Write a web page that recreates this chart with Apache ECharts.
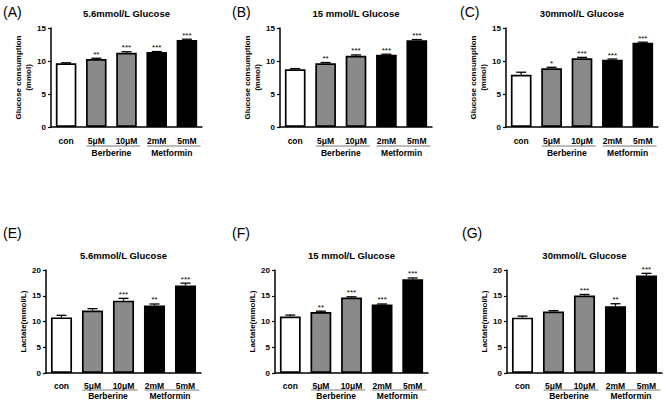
<!DOCTYPE html>
<html><head><meta charset="utf-8">
<script src="https://cdn.jsdelivr.net/npm/echarts@6/dist/echarts.min.js"></script>
<style>html,body{margin:0;padding:0;background:#fff}#c{width:667px;height:406px}</style>
</head><body><div id="c"></div>
<script>
// ---- data ----
const categories = ['con', '5μM', '10μM', '2mM', '5mM'];
const groupNames = ['Berberine', 'Metformin'];
const groupFrom = [1, 3];
const groupTo = [2, 4];

const panelLabels = ['(A)', '(B)', '(C)', '(E)', '(F)', '(G)'];
const panelTitles = ['5.6mmol/L Glucose', '15 mmol/L Glucose', '30mmol/L Glucose',
                     '5.6mmol/L Glucose', '15 mmol/L Glucose', '30mmol/L Glucose'];
const glucoseAxisName = 'Glucose consumption\n(mmol)';
const lactateAxisName = 'Lactate(mmol/L)';
const glucoseTicks = [0, 5, 10, 15];
const lactateTicks = [0, 5, 10, 15, 20];

const meanA = [9.65, 10.3, 11.25, 11.35, 13.2];
const errA  = [0.08, 0.12, 0.15, 0.08, 0.1];
const starsA = ['', '**', '***', '***', '***'];

const meanB = [8.75, 9.65, 10.8, 10.95, 13.15];
const errB  = [0.1, 0.12, 0.12, 0.08, 0.1];
const starsB = ['', '**', '***', '***', '***'];

const meanC = [7.9, 8.9, 10.4, 10.2, 12.75];
const errC  = [0.4, 0.15, 0.15, 0.1, 0.1];
const starsC = ['', '*', '***', '***', '***'];

const meanE = [10.8, 12.15, 14.05, 13.1, 17.0];
const errE  = [0.4, 0.35, 0.45, 0.3, 0.45];
const starsE = ['', '', '***', '**', '***'];

const meanF = [10.95, 11.85, 14.65, 13.3, 18.2];
const errF  = [0.3, 0.15, 0.15, 0.1, 0.25];
const starsF = ['', '**', '***', '***', '***'];

const meanG = [10.75, 11.95, 15.05, 12.95, 18.95];
const errG  = [0.3, 0.15, 0.2, 0.5, 0.4];
const starsG = ['', '', '***', '**', '***'];

// ---- layout / style ----
const FONT = '"Liberation Sans", Arial, sans-serif';
const barColors = ['#ffffff', '#8a8a8a', '#8a8a8a', '#000000', '#000000'];

const panels = [
  {mean: meanA, err: errA, stars: starsA, ticks: glucoseTicks, yName: glucoseAxisName,
   grid: {left: 51, top: 28, width: 151, height: 99}, nameGap: 14, labelMargin: 9, ulGap: 19, glGap: 26,
   labelXY: [3, 12], titleY: 13},
  {mean: meanB, err: errB, stars: starsB, ticks: glucoseTicks, yName: glucoseAxisName,
   grid: {left: 280, top: 28, width: 152, height: 99}, nameGap: 14, labelMargin: 9, ulGap: 19, glGap: 26,
   labelXY: [232, 12], titleY: 13},
  {mean: meanC, err: errC, stars: starsC, ticks: glucoseTicks, yName: glucoseAxisName,
   grid: {left: 506, top: 28, width: 152, height: 99}, nameGap: 14, labelMargin: 9, ulGap: 19, glGap: 26,
   labelXY: [460, 12], titleY: 13},
  {mean: meanE, err: errE, stars: starsE, ticks: lactateTicks, yName: lactateAxisName,
   grid: {left: 46, top: 270, width: 155, height: 103}, nameGap: 16, labelMargin: 8, ulGap: 17, glGap: 23,
   labelXY: [3, 233], titleY: 255},
  {mean: meanF, err: errF, stars: starsF, ticks: lactateTicks, yName: lactateAxisName,
   grid: {left: 275, top: 270, width: 153, height: 103}, nameGap: 16, labelMargin: 8, ulGap: 17, glGap: 23,
   labelXY: [232, 233], titleY: 255},
  {mean: meanG, err: errG, stars: starsG, ticks: lactateTicks, yName: lactateAxisName,
   grid: {left: 507, top: 270, width: 155, height: 103}, nameGap: 16, labelMargin: 8, ulGap: 17, glGap: 23,
   labelXY: [462, 233], titleY: 255}
];

const chart = echarts.init(document.getElementById('c'), null, {renderer: 'svg'});

const grids = [], xAxes = [], yAxes = [], series = [], graphics = [];

panels.forEach((p, i) => {
  grids.push(Object.assign({containLabel: false}, p.grid));
  xAxes.push({
    type: 'category', gridIndex: i, data: categories,
    axisLine: {lineStyle: {color: '#000', width: 1.5}},
    axisTick: {alignWithLabel: true, length: 3, lineStyle: {color: '#000', width: 1.2}},
    axisLabel: {color: '#000', fontFamily: FONT, fontWeight: 'bold', fontSize: 8.5, margin: p.labelMargin, interval: 0},
    splitLine: {show: false}
  });
  const yMax = p.ticks[p.ticks.length - 1];
  yAxes.push({
    type: 'value', gridIndex: i, min: p.ticks[0], max: yMax, interval: p.ticks[1] - p.ticks[0],
    name: p.yName, nameLocation: 'middle', nameGap: p.nameGap, nameRotate: 90,
    nameTextStyle: {color: '#000', fontFamily: FONT, fontWeight: 'bold', fontSize: 8, lineHeight: 10},
    axisLine: {show: true, lineStyle: {color: '#000', width: 1.5}},
    axisTick: {show: true, length: 3, lineStyle: {color: '#000', width: 1.2}},
    axisLabel: {color: '#000', fontFamily: FONT, fontWeight: 'bold', fontSize: 8, margin: 5},
    splitLine: {show: false}
  });
  series.push({
    type: 'bar', xAxisIndex: i, yAxisIndex: i, barWidth: '68%',
    data: p.mean.map((v, j) => ({value: v, itemStyle: {color: barColors[j]}})),
    itemStyle: {borderColor: '#000', borderWidth: 1.7},
    silent: true, animation: false
  });
  series.push({
    type: 'custom', xAxisIndex: i, yAxisIndex: i, clip: false, animation: false, silent: true, z: 5,
    data: p.mean.map((v, j) => [j, v, p.err[j]]),
    encode: {x: 0, y: 1},
    renderItem: (params, api) => {
      const j = api.value(0), m = api.value(1), e = api.value(2);
      const p0 = api.coord([j, m]);
      const p1 = api.coord([j, m + e]);
      const capHalf = 5;
      return {type: 'group', children: [
        {type: 'line', shape: {x1: p0[0], y1: p0[1], x2: p1[0], y2: p1[1]}, style: {stroke: '#000', lineWidth: 1.3}},
        {type: 'line', shape: {x1: p1[0] - capHalf, y1: p1[1], x2: p1[0] + capHalf, y2: p1[1]}, style: {stroke: '#000', lineWidth: 1.3}},
        {type: 'text', x: p1[0], y: p1[1] - 4, style: {text: p.stars[params.dataIndex], align: 'center', verticalAlign: 'middle',
          fontFamily: FONT, fontSize: 8, fontWeight: 'normal', fill: '#000'}}
      ]};
    }
  });
  series.push({
    type: 'custom', xAxisIndex: i, yAxisIndex: i, clip: false, animation: false, silent: true, z: 5,
    data: groupNames.map((n, k) => [groupFrom[k], 0, groupTo[k]]),
    encode: {x: 0, y: 1},
    renderItem: (params, api) => {
      const a = api.coord([api.value(0), 0]);
      const b = api.coord([api.value(2), 0]);
      const band = api.size([1, 0])[0];
      const y = a[1] + p.ulGap;
      const x1 = a[0] - band * 0.32, x2 = b[0] + band * 0.45;
      return {type: 'group', children: [
        {type: 'line', shape: {x1: x1, y1: y, x2: x2, y2: y}, style: {stroke: '#777', lineWidth: 1}},
        {type: 'text', x: (a[0] + b[0]) / 2, y: a[1] + p.glGap, style: {text: groupNames[params.dataIndex], align: 'center', verticalAlign: 'middle',
          fontFamily: FONT, fontSize: 8.5, fontWeight: 'bold', fill: '#000'}}
      ]};
    }
  });
  graphics.push({type: 'text', x: p.grid.left + p.grid.width / 2, y: p.titleY,
    style: {text: panelTitles[i], align: 'center', verticalAlign: 'middle', fontFamily: FONT, fontSize: 9.5, fontWeight: 'bold', fill: '#000'}});
  graphics.push({type: 'text', x: p.labelXY[0], y: p.labelXY[1],
    style: {text: panelLabels[i], align: 'left', verticalAlign: 'middle', fontFamily: FONT, fontSize: 14, fill: '#000'}});
});

chart.setOption({
  animation: false,
  backgroundColor: '#fff',
  grid: grids, xAxis: xAxes, yAxis: yAxes, series: series, graphic: graphics
});
</script></body></html>
